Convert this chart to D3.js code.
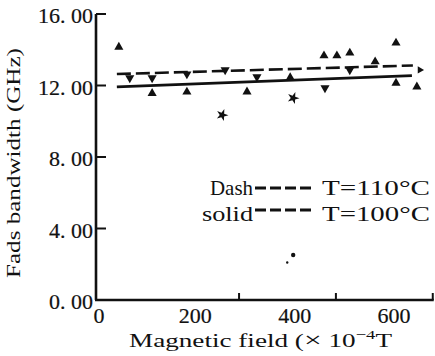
<!DOCTYPE html>
<html>
<head>
<meta charset="utf-8">
<script src="https://cdn.jsdelivr.net/npm/d3@7"></script>
<style>
  html, body { margin: 0; padding: 0; background: #fff; }
  svg { display: block; }
  text { font-family: "Liberation Serif", "DejaVu Serif", serif; fill: #111; }
</style>
</head>
<body>
<svg id="chart" width="435" height="356"></svg>
<script>
// ---- data ----
const xTickLabels = [0, 200, 400, 600];
const xMinorTicks = [288, 483, 678];
const yTicks = [0, 4, 8, 12, 16];

// measured points (filled up-triangles)
const triUpX = [46, 113, 183, 304, 391, 459, 485, 511, 562, 604, 604, 646];
const triUpY = [14.15, 11.56, 11.64, 11.65, 12.44, 13.67, 13.67, 13.82, 13.33, 14.38, 12.14, 11.93];
// markers sitting on the fitted lines (down-triangles)
const triDownX = [68, 113, 183, 260, 324, 511, 461];
const triDownY = [12.42, 12.42, 12.64, 12.87, 12.48, 12.87, 11.86];
// star-like outliers
const starX = [254, 397];
const starY = [10.35, 11.30];
// stray dots
const dotX = [397, 385];
const dotY = [2.52, 2.1];
// fitted lines
const dashFitX = [42, 638];
const dashFitY = [12.64, 13.12];
const solidFitX = [42, 636];
const solidFitY = [11.92, 12.55];
const arrowX = [652];
const arrowY = [12.87];

const legendLabels = ["Dash", "solid"];
const legendTemps = ["T=110°C", "T=100°C"];

// ---- drawing ----
const svg = d3.select("#chart");
const x = d3.scaleLinear().domain([0, 680]).range([96, 96 + 680 * 0.4967]);
const y = d3.scaleLinear().domain([0, 16]).range([300, 14]);
const ink = "#111";

// axes lines
const g = svg.append("g");
g.append("line").attr("x1", x(0)).attr("x2", x(0)).attr("y1", y(16)).attr("y2", y(0))
  .attr("stroke", ink).attr("stroke-width", 2.6);
g.append("line").attr("x1", x(0) - 1).attr("x2", x(680)).attr("y1", y(0)).attr("y2", y(0))
  .attr("stroke", ink).attr("stroke-width", 2.6);

// y ticks (inward)
g.selectAll(".ytick").data(yTicks.filter(d => d > 0)).join("line")
  .attr("x1", x(0)).attr("x2", x(0) + 10)
  .attr("y1", d => y(d)).attr("y2", d => y(d))
  .attr("stroke", ink).attr("stroke-width", 2);
g.selectAll(".ylab").data(yTicks).join("text")
  .attr("x", x(0) - 3).attr("y", d => y(d) + 9)
  .attr("text-anchor", "end").attr("font-size", 22)
  .attr("stroke", ink).attr("stroke-width", 0.2)
  .text(d => d3.format(".2f")(d).replace(".", ". "));

// x minor ticks (upward)
g.selectAll(".xtick").data(xMinorTicks).join("line")
  .attr("x1", d => x(d)).attr("x2", d => x(d))
  .attr("y1", y(0)).attr("y2", y(0) - 7)
  .attr("stroke", ink).attr("stroke-width", 2);
g.selectAll(".xlab").data(xTickLabels).join("text")
  .attr("x", d => x(d) + (d === 0 ? 3 : 0)).attr("y", 323)
  .attr("text-anchor", "middle").attr("font-size", 22)
  .attr("stroke", ink).attr("stroke-width", 0.2)
  .text(d => d);

// axis titles
const xt = svg.append("text").attr("x", 129).attr("y", 347)
  .attr("font-size", 19).attr("textLength", 263).attr("lengthAdjust", "spacingAndGlyphs");
xt.append("tspan").text("Magnetic field (");
xt.append("tspan").attr("font-size", 22).text("×");
xt.append("tspan").text(" 10");
xt.append("tspan").attr("font-size", 13).attr("dy", -8).text("−4");
xt.append("tspan").attr("dy", 8).text("T");

svg.append("text").attr("transform", "translate(20,163) rotate(-90)")
  .attr("text-anchor", "middle").attr("font-size", 18)
  .attr("textLength", 230).attr("lengthAdjust", "spacingAndGlyphs")
  .text("Fads bandwidth (GHz)");

// fitted lines
const line = d3.line().x(d => x(d[0])).y(d => y(d[1]));
svg.append("path").datum(d3.zip(dashFitX, dashFitY)).attr("d", line)
  .attr("fill", "none").attr("stroke", ink).attr("stroke-width", 2.6)
  .attr("stroke-dasharray", "14,5");
svg.append("path").datum(d3.zip(solidFitX, solidFitY)).attr("d", line)
  .attr("fill", "none").attr("stroke", ink).attr("stroke-width", 2.8);

// markers
const triUp = d3.symbol().type(d3.symbolTriangle).size(36);
svg.selectAll(".tu").data(d3.zip(triUpX, triUpY)).join("path")
  .attr("d", triUp).attr("fill", ink)
  .attr("transform", d => `translate(${x(d[0])},${y(d[1])})`);
svg.selectAll(".td").data(d3.zip(triDownX, triDownY)).join("path")
  .attr("d", triUp).attr("fill", ink)
  .attr("transform", d => `translate(${x(d[0])},${y(d[1])}) rotate(180)`);
const star = d3.symbol().type(d3.symbolStar).size(45);
svg.selectAll(".st").data(d3.zip(starX, starY)).join("path")
  .attr("d", star).attr("fill", ink)
  .attr("transform", d => `translate(${x(d[0])},${y(d[1])}) rotate(20)`);
svg.selectAll(".dt").data(d3.zip(dotX, dotY)).join("circle")
  .attr("cx", d => x(d[0])).attr("cy", d => y(d[1]))
  .attr("r", (d, i) => i === 0 ? 2.2 : 1.2).attr("fill", ink);
svg.selectAll(".ar").data(d3.zip(arrowX, arrowY)).join("path")
  .attr("d", triUp).attr("fill", ink)
  .attr("transform", d => `translate(${x(d[0])},${y(d[1])}) rotate(90) scale(0.8)`);

// legend
const lg = svg.append("g");
const rows = [
  { lx: 210, by: 195, sy: 188, lw: 43 },
  { lx: 202, by: 221, sy: 210, lw: 51 }
];
rows.forEach((r, i) => {
  lg.append("text").attr("x", r.lx).attr("y", r.by).attr("font-size", 21)
    .attr("textLength", r.lw).attr("lengthAdjust", "spacingAndGlyphs")
    .text(legendLabels[i]);
  lg.append("line").attr("x1", 255).attr("x2", 312).attr("y1", r.sy).attr("y2", r.sy)
    .attr("stroke", ink).attr("stroke-width", 2.8).attr("stroke-dasharray", "11,4");
  lg.append("text").attr("x", 322).attr("y", r.by).attr("font-size", 22)
    .attr("textLength", 108).attr("lengthAdjust", "spacingAndGlyphs")
    .text(legendTemps[i]);
});
</script>
</body>
</html>
